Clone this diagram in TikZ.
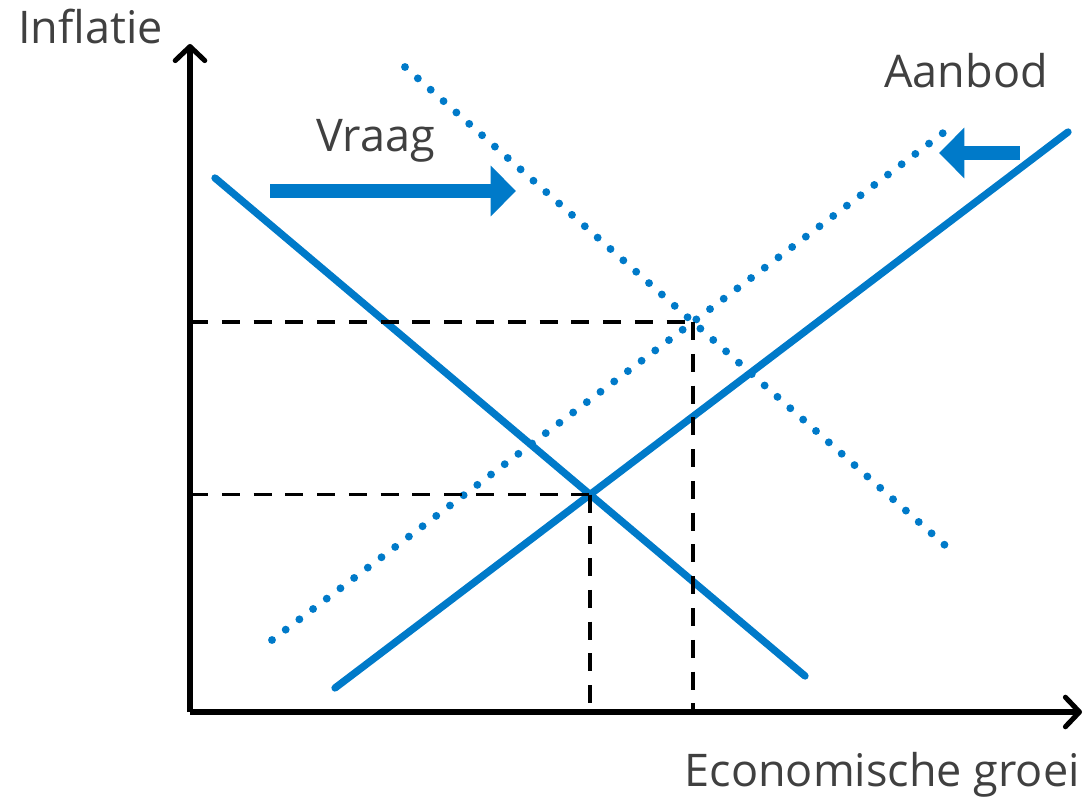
\documentclass[tikz,border=0pt]{standalone}
\usepackage{fontspec}
\setmainfont{Open Sans}
\usepackage{tikz}
\usetikzlibrary{arrows.meta,calc}
\definecolor{curveblue}{RGB}{0,122,201}
\definecolor{labelgray}{RGB}{64,64,64}
\newcommand\LabelSize{\fontsize{32}{38}\selectfont}
\tikzset{
  axis/.style={
    line width=3.6pt,
    -{Straight Barb[length=10pt,width=21pt,line cap=round,line join=round]}
  },
  curve/.style={
    line width=5.2pt,
    color=curveblue,
    line cap=round
  },
  shifted/.style={
    line width=5.6pt,
    color=curveblue,
    line cap=round,
    dash pattern=on 0pt off 12.2pt
  },
  guide/.style={
    line width=2.7pt,
    dash pattern=on 12.8pt off 9.8pt
  },
  shiftarrow/.style={
    line width=10pt,
    color=curveblue,
    -{Triangle[length=18pt,width=35pt]}
  },
  label/.style={
    anchor=base west,
    inner sep=0pt,
    text=labelgray,
    font=\LabelSize
  }
}

\begin{document}
\begin{tikzpicture}[x=0.025cm,y=-0.025cm]
\useasboundingbox (0,0) rectangle (1084,800);

  % axes
  \coordinate (O) at (190,712);
  \coordinate (ytop) at (190,44);
  \coordinate (xend) at (1082,712);
  \draw[axis] (O) -- (ytop);
  \draw[axis] (O) -- (xend);

  % demand and supply
  \coordinate (d1) at (215,178);
  \coordinate (d2) at (805,676);
  \coordinate (s1) at (335,688);
  \coordinate (s2) at (1068,132);
  \coordinate (dd1) at (405,67);
  \coordinate (dd2) at (947,547);
  \coordinate (sd1) at (272,640);
  \coordinate (sd2) at (947,130);

  \draw[curve] (d1) -- (d2);
  \draw[curve] (s1) -- (s2);
  \draw[shifted] (dd1) -- (dd2);
  \draw[shifted] (sd1) -- (sd2);

  % equilibria
  \coordinate (E1) at (intersection of d1--d2 and s1--s2);
  \coordinate (E2) at (intersection of dd1--dd2 and sd1--sd2);
  \coordinate (E1y) at (O |- E1);
  \coordinate (E1x) at (E1 |- O);
  \coordinate (E2y) at (O |- E2);
  \coordinate (E2x) at (E2 |- O);

  \draw[guide] (E1y) -- (E1);
  \draw[guide] (E1) -- (E1x);
  \draw[guide] (E2y) -- (E2);
  \draw[guide] (E2) -- (E2x);

  % shift arrows
  \coordinate (va) at (270,191);
  \coordinate (vb) at (516,191);
  \coordinate (aa) at (1020,153);
  \coordinate (ab) at (939,153);
  \draw[shiftarrow] (va) -- (vb);
  \draw[shiftarrow] (aa) -- (ab);

  % labels
  \node[label] (inflatie) at (18,44) {Inflatie};
  \node[label] (vraag) at (316,152) {Vraag};
  \node[label] (aanbod) at (884,88) {Aanbod};
  \node[label,anchor=base east] (groei) at (1080,786) {Economische groei};

\end{tikzpicture}
\end{document}
